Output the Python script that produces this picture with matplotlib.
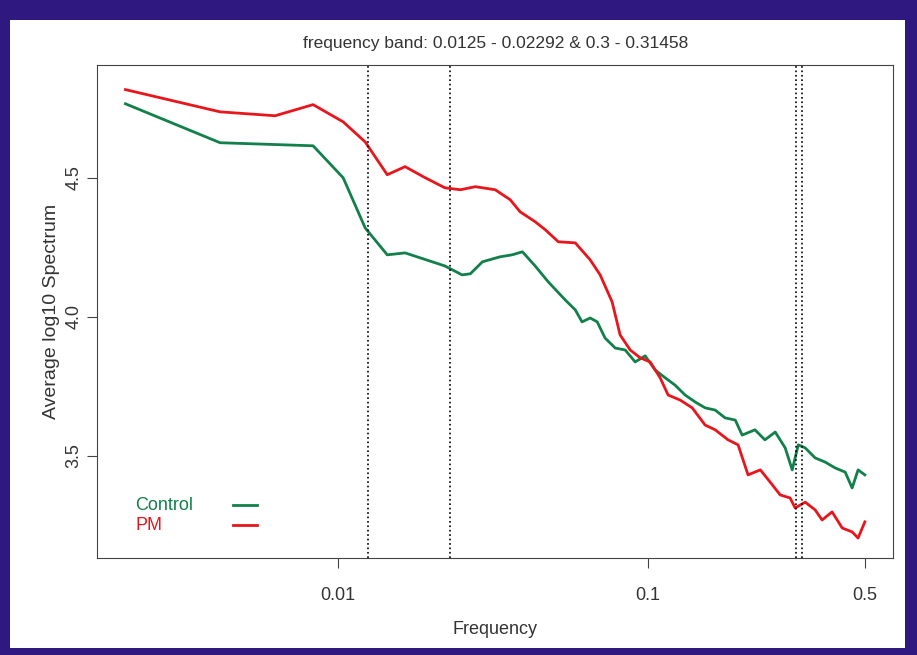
import matplotlib
matplotlib.use("Agg")
from matplotlib import pyplot as plt
from matplotlib.patches import Rectangle

plt.rcParams['font.family'] = ['Liberation Sans', 'DejaVu Sans']

# values
ctrl_f = [0.00206, 0.00416, 0.0083, 0.01038, 0.01222, 0.0144, 0.01644, 0.0221, 0.0251, 0.0267, 0.0292,
          0.0333, 0.0364, 0.0393, 0.0432, 0.0476, 0.0540, 0.0582, 0.0612, 0.065, 0.0685, 0.0726, 0.0783,
          0.0843, 0.0908, 0.0978, 0.1053, 0.1135, 0.122, 0.1316, 0.1418, 0.1527, 0.1645, 0.177, 0.191,
          0.201, 0.221, 0.238, 0.257, 0.2767, 0.2915, 0.305, 0.321, 0.3457, 0.3724, 0.401, 0.432, 0.455,
          0.4755, 0.5]
ctrl_v = [4.766, 4.626, 4.615, 4.5, 4.32, 4.223, 4.23, 4.183, 4.151, 4.155, 4.198,
          4.216, 4.223, 4.234, 4.183, 4.126, 4.061, 4.025, 3.982, 3.996, 3.982, 3.924, 3.888,
          3.881, 3.838, 3.86, 3.809, 3.781, 3.755, 3.719, 3.694, 3.673, 3.665, 3.637, 3.629,
          3.575, 3.594, 3.558, 3.586, 3.529, 3.45, 3.54, 3.529, 3.493, 3.478, 3.457, 3.442, 3.385,
          3.45, 3.432]
pm_f = [0.00206, 0.00416, 0.00626, 0.0083, 0.01038, 0.01222, 0.0144, 0.01644, 0.0191, 0.0221, 0.0248,
        0.0277, 0.0321, 0.0359, 0.0386, 0.0432, 0.0466, 0.0513, 0.0582, 0.065, 0.070, 0.0765, 0.0812,
        0.0875, 0.0942, 0.1015, 0.1093, 0.116, 0.1268, 0.1387, 0.1527, 0.1645, 0.181, 0.195, 0.210,
        0.230, 0.2475, 0.2666, 0.287, 0.298, 0.321, 0.3457, 0.364, 0.392, 0.4227, 0.455, 0.4755, 0.5]
pm_v = [4.817, 4.737, 4.723, 4.763, 4.701, 4.629, 4.511, 4.54, 4.5, 4.464, 4.457,
        4.468, 4.457, 4.421, 4.378, 4.342, 4.313, 4.27, 4.266, 4.205, 4.151, 4.054, 3.935,
        3.881, 3.853, 3.838, 3.781, 3.719, 3.701, 3.673, 3.611, 3.594, 3.558, 3.54, 3.432,
        3.45, 3.406, 3.36, 3.349, 3.313, 3.334, 3.306, 3.27, 3.299, 3.241, 3.227, 3.205, 3.263]
band_edges = [0.0125, 0.02292, 0.3, 0.31458]
series = ["Control", "PM"]
colors = ["#11804a", "#e8161c"]

fig = plt.figure(figsize=(9.17, 6.55), dpi=100, facecolor="#2f1880")
fig.patches.append(Rectangle((10/917, 0.011), 895/917, 0.958, transform=fig.transFigure,
                             facecolor="white", edgecolor="none", zorder=-1))
ax = fig.add_axes([0.106, 0.148, 0.868, 0.753])
ax.set_zorder(1)
ax.plot(ctrl_f, ctrl_v, color=colors[0], lw=2)
ax.plot(pm_f, pm_v, color=colors[1], lw=2)
for b in band_edges:
    ax.axvline(b, color="black", ls=":", lw=1.2)
ax.set_xscale("log")
ax.set_xlim(0.00167, 0.617)
ax.set_ylim(3.133, 4.906)
ax.set_xticks([0.01, 0.1, 0.5])
ax.set_xticklabels(["0.01", "0.1", "0.5"])
ax.minorticks_off()
ax.set_yticks([3.5, 4.0, 4.5])
ax.set_yticklabels(["3.5", "4.0", "4.5"], rotation=90, va="center")
ax.tick_params(labelsize=13, length=7, color="#444444", colors="#333333")
ax.tick_params(axis="x", pad=14)
ax.set_xlabel("Frequency", fontsize=13, color="#333333", labelpad=12)
ax.set_ylabel("Average log10 Spectrum", fontsize=14, color="#333333")
ax.set_title("frequency band: 0.0125 - 0.02292 & 0.3 - 0.31458", fontsize=12.5, pad=12, color="#333333")
for s in ax.spines.values():
    s.set_color("#444444")

# legend drawn by hand: label left, short line to the right
for i, (name, c) in enumerate(zip(series, colors)):
    y = 0.107 - i * 0.04
    ax.text(0.048, y, name, color=c, fontsize=13, transform=ax.transAxes, va="center")
    ax.plot([0.171, 0.201], [y, y], color=c, lw=2, transform=ax.transAxes)

fig.savefig("out.png", facecolor=fig.get_facecolor())
